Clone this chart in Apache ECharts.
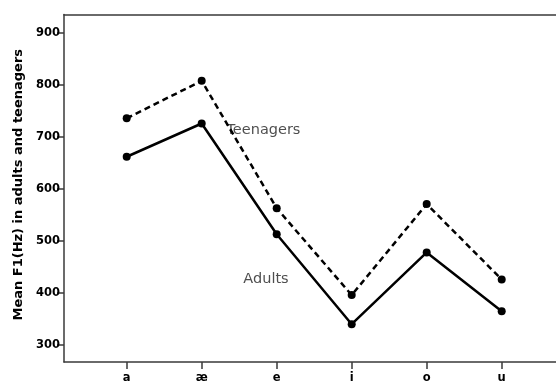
<!DOCTYPE html>
<html>
<head>
<meta charset="utf-8">
<script src="https://cdn.jsdelivr.net/npm/echarts@6/dist/echarts.min.js"></script>
<style>html,body{margin:0;padding:0;background:#fff;}#c{width:556px;height:385px;}</style>
</head>
<body>
<div id="c"></div>
<script>
var categories = ['a', 'æ', 'e', 'i', 'o', 'u'];
var teenagers = [736, 808, 563, 396, 571, 426];
var adults = [662, 726, 513, 340, 478, 365];
var yTicks = [300, 400, 500, 600, 700, 800, 900];
var seriesLabels = ['Teenagers', 'Adults'];
var labelAnchors = [[1.33, 713], [1.555, 427]];
var yTitle = 'Mean F1(Hz) in adults and teenagers';

var chart = echarts.init(document.getElementById('c'), null, {renderer: 'canvas'});
var axisColor = '#3a3a3a';
var font = 'DejaVu Sans';
var idx = categories.map(function (c, i) { return i; });
function pts(arr) { return arr.map(function (v, i) { return [i, v]; }); }

chart.setOption({
  animation: false,
  backgroundColor: '#fff',
  grid: {left: 64, top: 14.5, right: 0, bottom: 23},
  xAxis: [{
    type: 'value', min: -0.836, max: 5.724,
    splitLine: {show: false},
    axisLine: {show: true, onZero: false, lineStyle: {color: axisColor, width: 1.5}},
    axisTick: {show: true, customValues: idx, length: 7, lineStyle: {color: axisColor, width: 1.5}},
    axisLabel: {show: true, customValues: idx, margin: 10, color: '#000', fontFamily: font, fontWeight: 'bold', fontSize: 11.5,
      formatter: function (v) { return categories[Math.round(v)]; }}
  }, {
    type: 'value', position: 'top', min: -0.836, max: 5.724,
    splitLine: {show: false},
    axisLine: {show: true, onZero: false, lineStyle: {color: axisColor, width: 1.5}},
    axisTick: {show: false}, axisLabel: {show: false}
  }],
  yAxis: {
    type: 'value', min: 267.3, max: 935.6,
    splitLine: {show: false},
    axisLine: {show: true, onZero: false, lineStyle: {color: axisColor, width: 1.5}},
    axisTick: {show: true, customValues: yTicks, length: 7, lineStyle: {color: axisColor, width: 1.5}},
    axisLabel: {show: true, customValues: yTicks, margin: 4, color: '#000', fontFamily: font, fontWeight: 'bold', fontSize: 11.5},
    name: yTitle, nameLocation: 'middle', nameGap: 34, nameRotate: 90,
    nameTextStyle: {color: '#000', fontFamily: font, fontWeight: 'bold', fontSize: 13, padding: [0, 0, 0, 7]}
  },
  series: [{
    type: 'line', data: pts(teenagers), symbol: 'circle', symbolSize: 8,
    itemStyle: {color: '#000'},
    lineStyle: {color: '#000', width: 2.5, type: [6, 4]}
  }, {
    type: 'line', data: pts(adults), symbol: 'circle', symbolSize: 8,
    itemStyle: {color: '#000'},
    lineStyle: {color: '#000', width: 2.5, type: 'solid'}
  }, {
    type: 'scatter', symbolSize: 0, silent: true,
    data: labelAnchors.map(function (p, i) { return {value: p, name: seriesLabels[i]}; }),
    label: {show: true, position: 'right', distance: 0, formatter: '{b}', color: '#222', fontFamily: font, fontSize: 14.5}
  }]
});
</script>
</body>
</html>
